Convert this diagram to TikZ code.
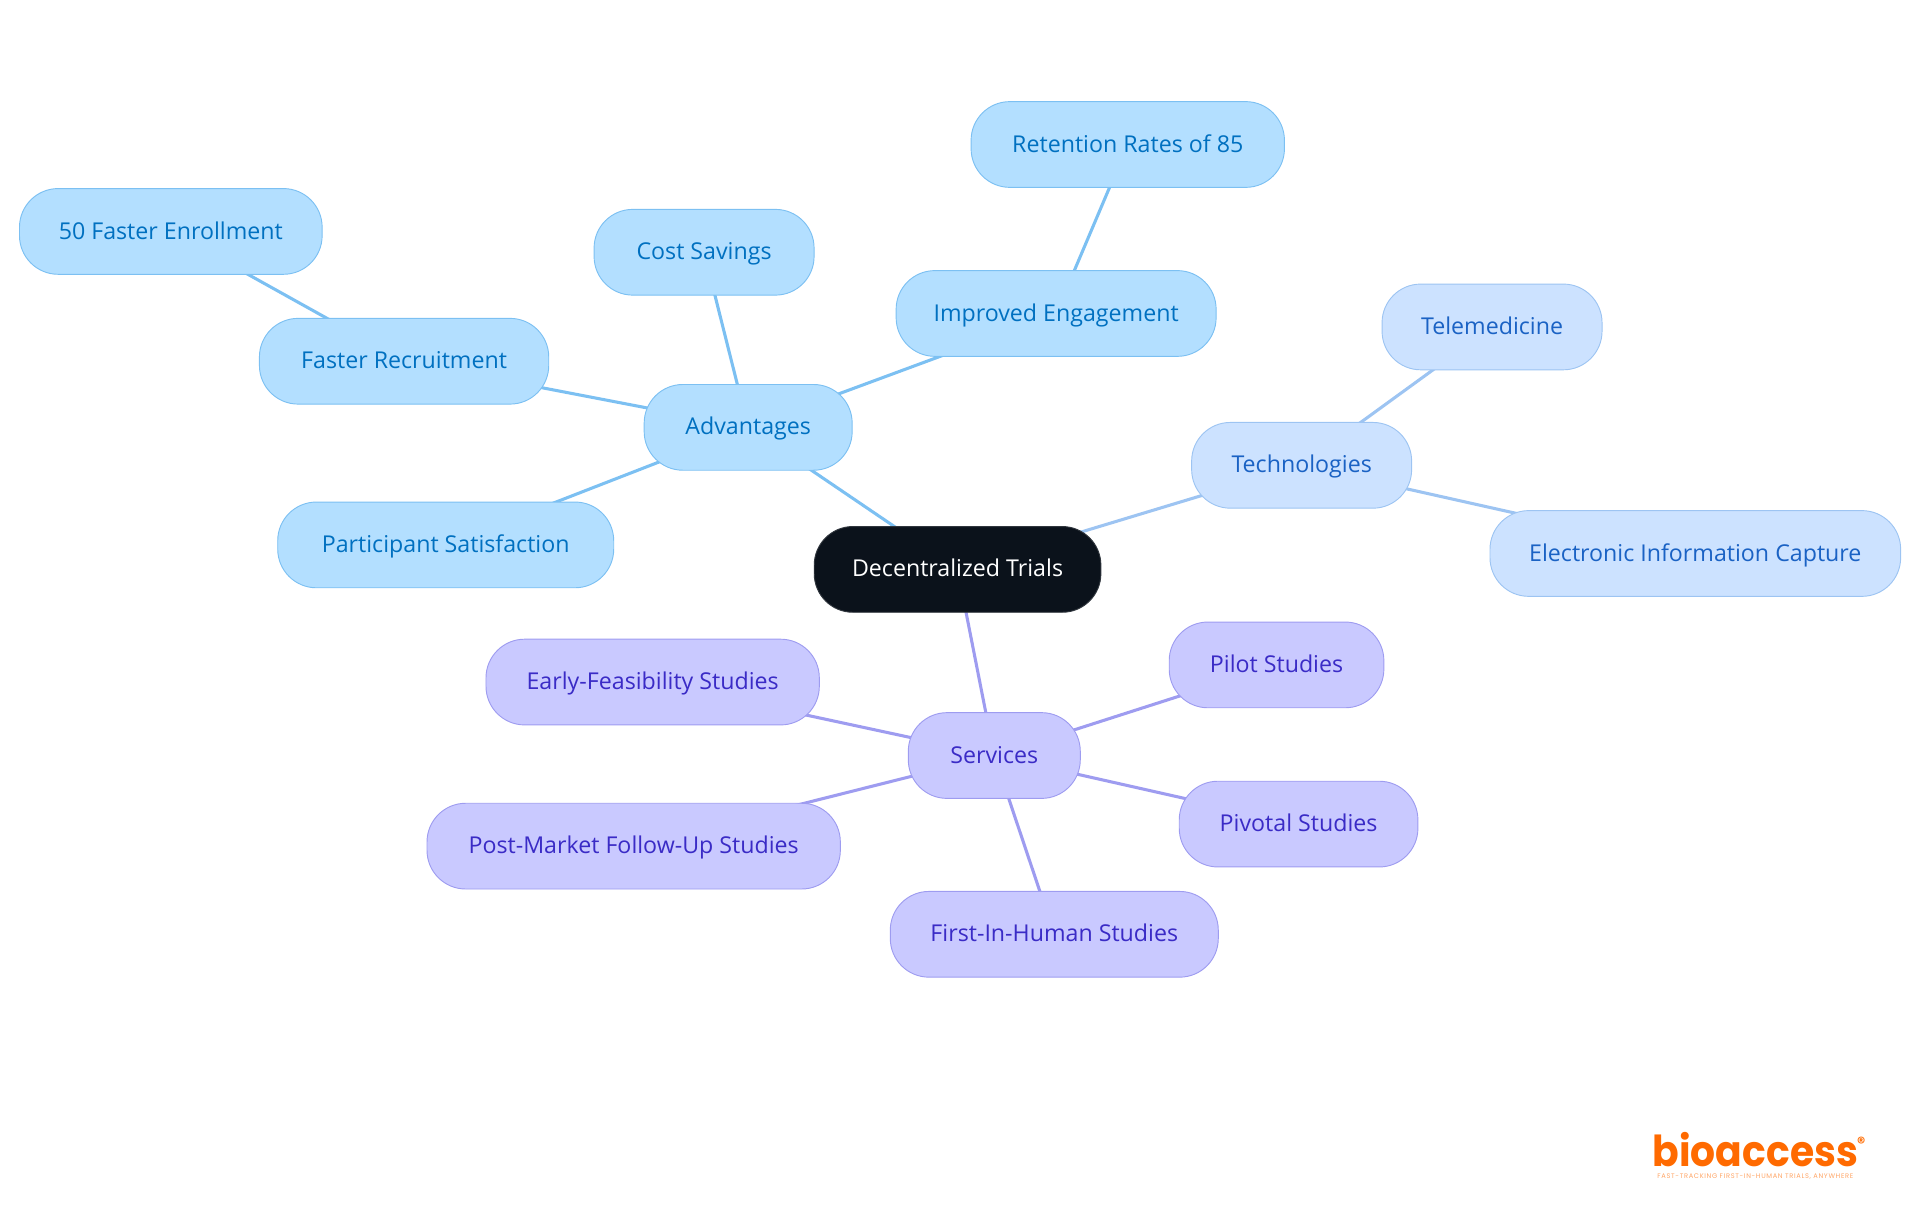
\documentclass[tikz,border=0pt]{standalone}
\usepackage{fontspec}
\setmainfont{Open Sans}
\newfontfamily\logofont[FakeStretch=0.92]{Poppins}
\newfontfamily\markfont{Poppins}
\newfontfamily\taglinefont[LetterSpace=10]{Poppins}
\usetikzlibrary{backgrounds}
\definecolor{blueFill}{HTML}{B3DFFF}
\definecolor{blueLine}{HTML}{7CC0F2}
\definecolor{blueText}{HTML}{0070C0}
\definecolor{techFill}{HTML}{CCE2FF}
\definecolor{techLine}{HTML}{9DC4F2}
\definecolor{techText}{HTML}{1A62C4}
\definecolor{servFill}{HTML}{C9C9FF}
\definecolor{servLine}{HTML}{9E9CF0}
\definecolor{servText}{HTML}{3A2BC6}
\definecolor{rootFill}{HTML}{0B121B}
\definecolor{logoOrange}{HTML}{FF6A00}
\tikzset{
	box/.style={draw, line width=0.7pt, rounded corners=29pt, minimum height=64.3pt, inner sep=0pt, text height=14pt, text depth=2.6pt, font=\fontsize{17.4}{20}\selectfont},
	advbox/.style={box, fill=blueFill, draw=blueLine, text=blueText},
	techbox/.style={box, fill=techFill, draw=techLine, text=techText},
	servbox/.style={box, fill=servFill, draw=servLine, text=servText},
	rootbox/.style={box, fill=rootFill, draw=rootFill!85!white, text=white},
	link/.style={line width=2.3pt}
}
\begin{document}
\begin{tikzpicture}[x=0.9184pt, y=-0.9184pt]
	\useasboundingbox (0,0) rectangle (1568,992.2);

	% The root and its three branches
	\node[rootbox, minimum width=215pt] (root) at (782,465) {Decentralized Trials};
	\node[advbox, minimum width=156pt] (adv) at (611,349) {Advantages};
	\node[techbox, minimum width=165pt] (tech) at (1063,380) {Technologies};
	\node[servbox, minimum width=129pt] (serv) at (812,617) {Services};

	% Advantages
	\node[advbox, minimum width=240pt] (engage) at (862.5,256) {Improved Engagement};
	\node[advbox, minimum width=235pt] (retain) at (921,118) {Retention Rates of 85};
	\node[advbox, minimum width=165pt] (cost) at (575,206) {Cost Savings};
	\node[advbox, minimum width=217pt] (recruit) at (330,295) {Faster Recruitment};
	\node[advbox, minimum width=227pt] (enroll) at (139.5,189) {50 Faster Enrollment};
	\node[advbox, minimum width=252pt] (satisfy) at (364,445) {Participant Satisfaction};

	% Technologies
	\node[techbox, minimum width=165pt] (tele) at (1218.5,267) {Telemedicine};
	\node[techbox, minimum width=308pt] (capture) at (1384.5,452) {Electronic Information Capture};

	% Services
	\node[servbox, minimum width=161pt] (pilot) at (1042.5,543) {Pilot Studies};
	\node[servbox, minimum width=250pt] (early) at (533,557) {Early-Feasibility Studies};
	\node[servbox, minimum width=179pt] (pivotal) at (1060.5,673) {Pivotal Studies};
	\node[servbox, minimum width=310pt] (post) at (517.5,691) {Post-Market Follow-Up Studies};
	\node[servbox, minimum width=246pt] (first) at (861,763) {First-In-Human Studies};

	% Links run from centre to centre, behind the boxes
	\begin{scope}[on background layer]
		\draw[link, blueLine] (root.center) -- (adv.center);
		\draw[link, blueLine] (adv.center) -- (engage.center);
		\draw[link, blueLine] (engage.center) -- (retain.center);
		\draw[link, blueLine] (adv.center) -- (cost.center);
		\draw[link, blueLine] (adv.center) -- (recruit.center);
		\draw[link, blueLine] (recruit.center) -- (enroll.center);
		\draw[link, blueLine] (adv.center) -- (satisfy.center);
		\draw[link, techLine] (root.center) -- (tech.center);
		\draw[link, techLine] (tech.center) -- (tele.center);
		\draw[link, techLine] (tech.center) -- (capture.center);
		\draw[link, servLine] (root.center) -- (serv.center);
		\draw[link, servLine] (serv.center) -- (pilot.center);
		\draw[link, servLine] (serv.center) -- (early.center);
		\draw[link, servLine] (serv.center) -- (pivotal.center);
		\draw[link, servLine] (serv.center) -- (post.center);
		\draw[link, servLine] (serv.center) -- (first.center);
	\end{scope}

	% The logo
	\node[text=logoOrange, inner sep=0pt, font=\logofont\bfseries\fontsize{32}{32}\selectfont] (logo) at (1433.5,938.5) {bioaccess};
	\node[text=logoOrange, inner sep=0pt, font=\markfont\bfseries\fontsize{12}{12}\selectfont] (mark) at (1520,933) {®};
	\node[text=logoOrange!60, inner sep=0pt, font=\taglinefont\fontsize{5}{5}\selectfont] (tagline) at (1433.5,961) {FAST-TRACKING FIRST-IN-HUMAN TRIALS, ANYWHERE};
\end{tikzpicture}
\end{document}
